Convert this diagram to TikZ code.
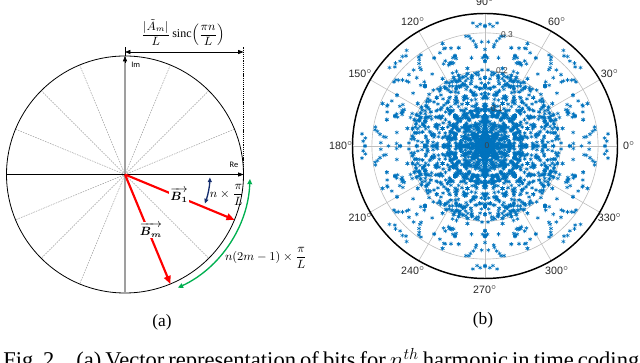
\documentclass[tikz,border=0pt]{standalone}
\usepackage{amsmath}
\usepackage{fontspec}
\setmainfont{Liberation Serif}
\newfontfamily\plotsans{Liberation Sans}
\newfontfamily\calib{Carlito}
\usetikzlibrary{arrows.meta,plotmarks}
\definecolor{mblue}{RGB}{0,114,189}
\definecolor{navyarc}{RGB}{20,45,110}
\definecolor{greenarc}{RGB}{0,176,80}
\definecolor{gridgray}{RGB}{190,190,190}
\tikzset{
  raystyle/.style={gray!80, line width=0.35pt, dash pattern=on 1.2pt off 0.8pt},
  imaxis/.style={gray!75, line width=0.8pt},
  blackarrow/.style={-{Triangle[length=4pt,width=3pt]}, line width=0.5pt},
  dimline/.style={{Triangle[length=4pt,width=3pt]}-{Triangle[length=4pt,width=3pt]}, line width=0.5pt},
  redarrow/.style={red, line width=1.6pt, -{Triangle[length=6pt,width=5pt]}},
  veclabel/.style={fill=white, inner sep=0.6pt, font=\fontsize{9}{10}\selectfont},
  arclabel/.style={font=\fontsize{9}{10}\selectfont, inner sep=0pt},
  navyarrow/.style={navyarc, line width=1pt, {Triangle[length=3.5pt,width=3pt]}-{Triangle[length=3.5pt,width=3pt]}},
  greenarrow/.style={greenarc, line width=1pt, {Triangle[length=4pt,width=3.5pt]}-{Triangle[length=4pt,width=3.5pt]}},
  axlabel/.style={font=\calib\fontsize{6.3}{7}\selectfont, inner sep=0pt},
  grid/.style={gridgray, line width=0.45pt},
  anglabel/.style={font=\plotsans\fontsize{8}{9}\selectfont, text=black!85, inner sep=0pt},
  rlabel/.style={font=\plotsans\fontsize{6.3}{7}\selectfont, text=black!75, inner sep=0pt},
  mystar/.style={mblue, line width=0.42pt, mark=asterisk, mark size=1.55pt, only marks},
  sublabel/.style={font=\fontsize{13}{15}\selectfont, inner sep=0pt},
}
\makeatletter
\def\ptlist{}
\def\subsum#1#2#3{%
  \ifnum#1>8\relax
    \xdef\ptlist{\ptlist(#2,#3)}%
  \else
    \begingroup
      \pgfmathsetmacro\nxa{#2+\csname vx\number#1\endcsname}%
      \pgfmathsetmacro\nya{#3+\csname vy\number#1\endcsname}%
      \edef\next{\noexpand\subsum{\the\numexpr#1+1\relax}{#2}{#3}%
                 \noexpand\subsum{\the\numexpr#1+1\relax}{\nxa}{\nya}}%
    \expandafter\endgroup\next
  \fi}
\makeatother
\newcommand\symstar[2]{% angle, radius: 16 copies with dihedral 8-fold symmetry
  \draw[mystar] plot coordinates {(#1:#2) (45-#1:#2) (45+#1:#2) (90-#1:#2)
    (90+#1:#2) (135-#1:#2) (135+#1:#2) (180-#1:#2) (180+#1:#2) (225-#1:#2)
    (225+#1:#2) (270-#1:#2) (270+#1:#2) (315-#1:#2) (315+#1:#2) (360-#1:#2)};}
\begin{document}
\begin{tikzpicture}[x=0.75pt,y=0.75pt]
\useasboundingbox (0,0) rectangle (640,363);
% ================= (a) =================
\coordinate (C) at (125,188.5);
\def\R{118.5}
\foreach \a in {22.5,45,67.5,112.5,135,157.5}
  \draw[raystyle] ([shift={(\a:\R)}]C) -- ([shift={(\a+180:\R)}]C);
\draw[black, line width=0.6pt] (C) circle[radius=\R];
\coordinate (ImBot) at (125,70);
\coordinate (ImTop) at (125,307);
\coordinate (DimL) at (125,316);
\draw[imaxis] (ImBot) -- (ImTop);
\draw[blackarrow] (125,300) -- (ImTop);
\draw[line width=0.5pt] (ImTop) -- (DimL);
\coordinate (ReL) at (6.5,188.5);
\coordinate (ReR) at (243.5,188.5);
\draw[blackarrow] (ReL) -- (ReR);
\coordinate (DimR) at (243.5,316);
\draw[line width=0.5pt, dash pattern=on 0.8pt off 0.6pt] (ReR) -- (DimR);
\coordinate (DimA) at (125,311);
\coordinate (DimB) at (243.5,311);
\draw[dimline] (DimA) -- (DimB);
\node[inner sep=0pt, font=\fontsize{9}{11}\selectfont] (formula) at (183,330.5)
  {$\dfrac{|\tilde{A}_m|}{L}\,\mathrm{sinc}\!\left(\dfrac{\pi n}{L}\right)$};
\node[axlabel, anchor=west] (Im) at (131,298) {Im};
\node[axlabel] (Re) at (234,198) {Re};
% vectors
\coordinate (B1tip) at ([shift={(-22.5:\R)}]C);
\coordinate (Bmtip) at ([shift={(-67.5:\R)}]C);
\draw[redarrow] (C) -- (B1tip);
\draw[redarrow] (C) -- (Bmtip);
\node[veclabel] (B1) at (179,168) {$\overrightarrow{\boldsymbol{B}_{\boldsymbol{1}}}$};
\node[veclabel] (Bm) at (151,133) {$\overrightarrow{\boldsymbol{B}_{\boldsymbol{m}}}$};
% arcs
\coordinate (navyS) at ([shift={(-2:85)}]C);
\draw[navyarrow] (navyS) arc[start angle=-2, end angle=-20, radius=85];
\node[arclabel] (nlab) at (227,168) {$n\times\dfrac{\pi}{L}$};
\coordinate (greenS) at ([shift={(-2:125)}]C);
\draw[greenarrow] (greenS) arc[start angle=-2, end angle=-65, radius=125];
\node[arclabel] (glab) at (266,105) {$n(2m-1)\times\dfrac{\pi}{L}$};
\node[sublabel] (capA) at (162,41) {(a)};
% ================= (b) =================
\coordinate (P) at (485,217);
\def\Ro{132.5}
\foreach \r in {37.7,75.4,113.1}
  \draw[grid] (P) circle[radius=\r];
\foreach \a in {0,30,...,330}
  \draw[grid] (P) -- ([shift={(\a:\Ro)}]P);
\begin{scope}[shift={(P)}]
\foreach \n in {1,...,7}{
  \pgfmathsetmacro\sc{377*sin(22.5*\n)/(pi*\n/8)/8}
  \foreach \m in {1,...,8}{
    \pgfmathsetmacro\tmpx{\sc*cos(\n*(2*\m-1)*22.5)}
    \pgfmathsetmacro\tmpy{\sc*sin(\n*(2*\m-1)*22.5)}
    \expandafter\xdef\csname vx\m\endcsname{\tmpx}
    \expandafter\xdef\csname vy\m\endcsname{\tmpy}
  }
  \gdef\ptlist{}
  \subsum{1}{0}{0}
  \edef\tmpdraw{\noexpand\draw[mystar] plot coordinates {\ptlist};}
  \tmpdraw
}
% scattered cloud, in radial bands (area-uniform inside each band)
\pgfmathsetseed{4711}
\foreach \ra/\rb/\cnt in {112/124/3, 75/112/21, 38/75/60, 8/38/45}{
  \foreach \i in {1,...,\cnt}{
    \pgfmathsetmacro\rr{sqrt(\ra*\ra+(\rb*\rb-\ra*\ra)*rnd)}
    \pgfmathsetmacro\tt{22.5*rnd}
    \symstar{\tt}{\rr}
  }
}
% concentric rings near the centre
\foreach \rr/\k in {25/32,20/32,14/16,8/16,3.5/8}{
  \foreach \j in {1,...,\k}
    \draw[mystar] plot coordinates {({360*\j/\k+11.25}:\rr)};
}
\end{scope}
\draw[black, line width=1.1pt] (P) circle[radius=\Ro];
\foreach \a in {0,30,...,330}
  \node[anglabel] (ang\a) at ([shift={(\a:144)}]P) {\a$^{\circ}$};
\node[rlabel] (r0) at ([shift={(2,0)}]P) {0};
\node[rlabel] (r1) at ([shift={(12,37)}]P) {0.1};
\node[rlabel] (r2) at ([shift={(17,75)}]P) {0.2};
\node[rlabel] (r3) at ([shift={(22,111)}]P) {0.3};
\node[sublabel] (capB) at (483,43) {(b)};
% caption (cut by page edge)
\node[anchor=base west, inner sep=0pt, font=\fontsize{16.9}{19}\selectfont] (caption) at (3,-4.4)
  {\spaceskip=0.25em plus 0.1em minus 0.1em\relax\hbox to 477pt{Fig.~2.\hspace{1em minus 0.4em}(a) Vector representation of bits for $n^{th}$ harmonic in time coding}};
\end{tikzpicture}
\end{document}
